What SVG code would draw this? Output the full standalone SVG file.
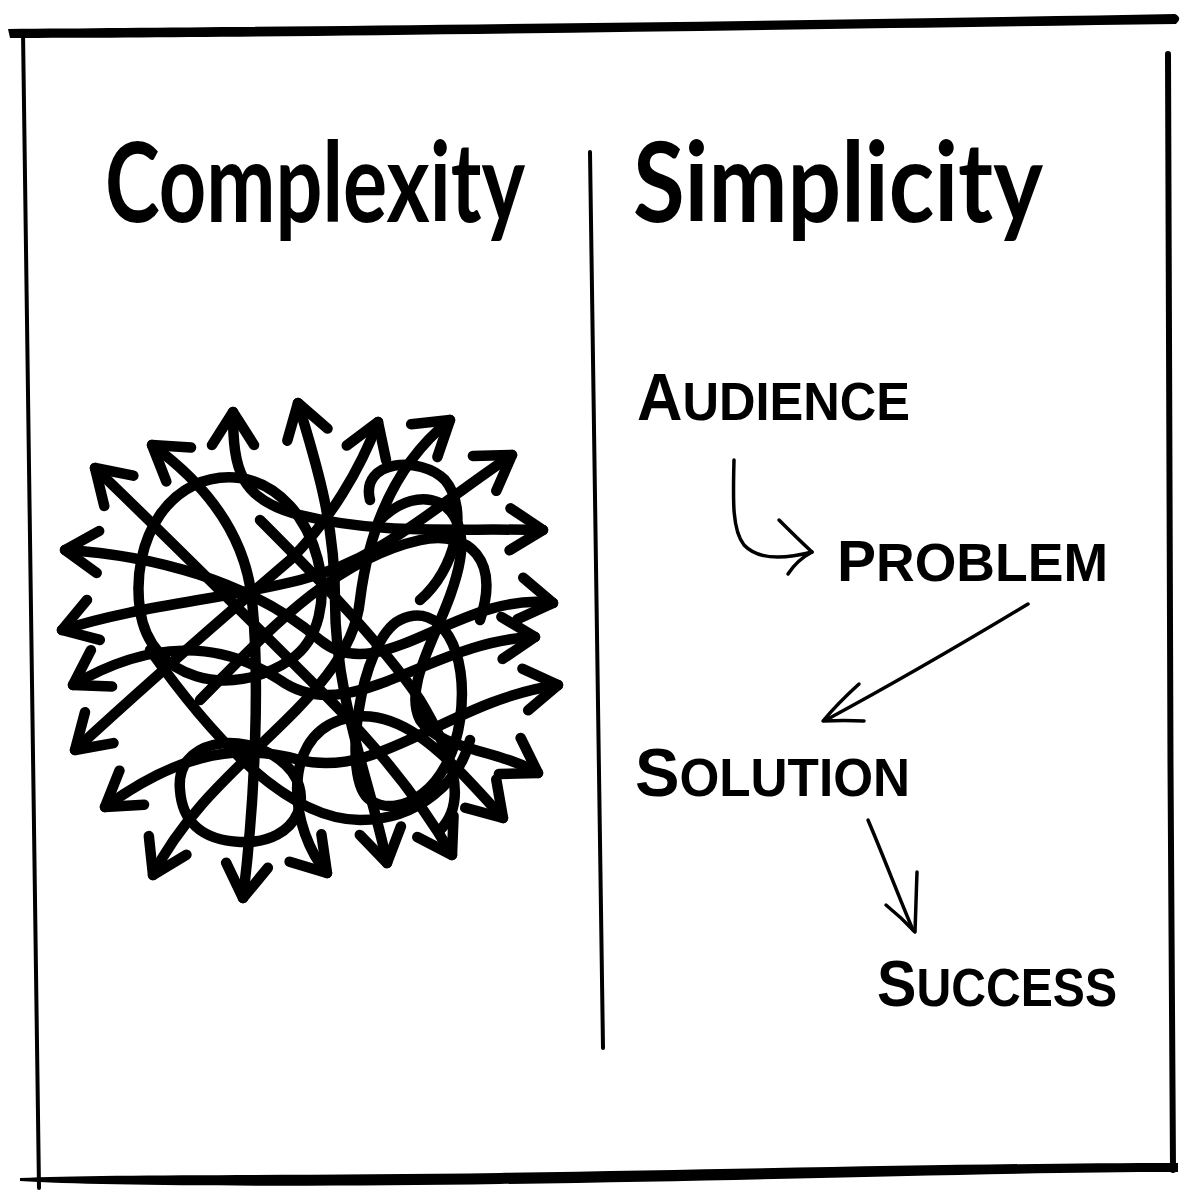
<svg xmlns="http://www.w3.org/2000/svg" width="1200" height="1200" viewBox="0 0 1200 1200">
<style>
.ink{fill:#000}
.s{fill:none;stroke:#000;stroke-width:10.5;stroke-linecap:round;stroke-linejoin:round}
.both{marker-start:url(#ah);marker-end:url(#ah)}
.one{marker-end:url(#ah)}
.thin{fill:none;stroke:#000;stroke-width:3.5;stroke-linecap:round;stroke-linejoin:round}
.title{font-family:Lato,"Liberation Sans",sans-serif;font-weight:700;font-size:112px;fill:#000}
.lbl{font-family:"Liberation Sans",Arial,sans-serif;font-weight:700;font-size:53px;fill:#000}
</style>
<defs>
<marker id="ah" viewBox="-40 -30 50 60" refX="0" refY="0" markerWidth="50" markerHeight="60" markerUnits="userSpaceOnUse" orient="auto-start-reverse" overflow="visible">
<path d="M-33,-21 L0,0 L-33,21" fill="none" stroke="#000" stroke-width="10.5" stroke-linecap="round" stroke-linejoin="round"/>
</marker>
</defs>
<rect width="1200" height="1200" fill="#fff"/>
<g id="frame">
<path class="ink" d="M8,29 C300,27 800,21 1175,14 Q1183,18 1176,24 C800,29 300,38 10,38 Z"/>
<path d="M23,32 L39,1188" stroke="#000" stroke-width="4" fill="none" stroke-linecap="round"/>
<path class="ink" d="M20,1178 C100,1174 300,1176 500,1173 C800,1168 1000,1163 1178,1163 L1178,1172 C1000,1172 800,1180 500,1184 C300,1187 100,1186 20,1181 Z"/>
<path d="M1168,54 C1171,400 1169,800 1173,1170" stroke="#000" stroke-width="6" fill="none" stroke-linecap="round"/>
<path d="M590,152 L603,1048" stroke="#000" stroke-width="4" fill="none" stroke-linecap="round"/>
</g>
<g id="title-complexity"><text class="title" x="105" y="222" textLength="420" lengthAdjust="spacingAndGlyphs">Complexity</text></g>
<g id="title-simplicity"><text class="title" x="633" y="222" textLength="410" lengthAdjust="spacingAndGlyphs">Simplicity</text></g>
<g id="tangle">
<path class="s both" d="M233,412 C233,470 240,500 300,515 C380,535 450,528 543,530"/>
<path class="s both" d="M152,445 C200,480 245,530 252,600 C260,680 255,800 243,898"/>
<path class="s both" d="M298,403 C315,460 335,520 335,600 C335,700 370,780 387,863"/>
<path class="s both" d="M378,422 C360,470 330,520 290,560 C220,620 140,690 75,750"/>
<path class="s both" d="M450,420 C400,460 370,520 360,600 C350,700 210,760 153,875"/>
<path class="s both" d="M512,455 C430,510 380,560 300,580 C220,600 140,605 62,630"/>
<path class="s both" d="M65,550 C150,555 250,580 320,640 C380,690 460,590 553,603"/>
<path class="s both" d="M95,468 C170,540 250,620 330,700 C380,750 420,800 452,855"/>
<path class="s both" d="M73,685 C150,640 220,640 280,680 C350,730 430,640 535,637"/>
<path class="s both" d="M105,807 C170,760 230,740 300,760 C380,780 450,700 558,685"/>
<path class="s both" d="M327,873 C290,830 280,740 340,720 C400,700 450,760 503,818"/>
<path class="s one" d="M380,520 C420,480 470,500 460,560 C450,620 400,680 420,720 C440,750 500,750 538,773"/>
<path class="s" d="M240,478 C170,470 130,540 140,610 C150,680 230,700 290,660 C350,620 320,490 240,478 Z"/>
<path class="s" d="M180,790 C175,740 240,730 280,760 C320,790 300,845 240,842 C200,840 182,820 180,790 Z"/>
<path class="s" d="M400,620 C440,600 470,650 460,720 C450,790 400,820 370,800 C340,780 360,640 400,620 Z"/>
<path class="s" d="M370,500 C360,460 420,455 445,480 C470,510 455,570 420,600"/>
<path class="s" d="M200,700 C260,640 330,560 420,540 C470,530 500,560 480,620"/>
<path class="s" d="M260,520 C300,560 380,640 420,700 C450,750 470,800 440,830"/>
<path class="s" d="M150,650 C200,720 280,820 360,820 C420,820 460,780 470,740"/>
</g>
<g id="node-audience"><text class="lbl" x="637" y="420" textLength="273" lengthAdjust="spacingAndGlyphs"><tspan font-size="66">A</tspan>UDIENCE</text></g>
<g id="node-problem"><text class="lbl" x="837" y="581" textLength="271" lengthAdjust="spacingAndGlyphs"><tspan font-size="58">P</tspan>ROBLEM</text></g>
<g id="node-solution"><text class="lbl" x="635" y="796" textLength="275" lengthAdjust="spacingAndGlyphs"><tspan font-size="69">S</tspan>OLUTION</text></g>
<g id="node-success"><text class="lbl" x="877" y="1006" textLength="240" lengthAdjust="spacingAndGlyphs"><tspan font-size="65">S</tspan>UCCESS</text></g>
<g id="connectors">
<path class="thin" d="M734,460 C733,500 732,530 744,545 C758,560 785,559 812,552"/>
<path class="thin" d="M779,520 Q797,538 812,552 Q797,560 788,574"/>
<path class="thin" d="M1028,604 C960,645 900,680 826,720"/>
<path class="thin" d="M859,684 Q838,703 823,721 Q845,720 864,721"/>
<path class="thin" d="M868,820 C885,860 898,895 913,930"/>
<path class="thin" d="M886,905 Q902,918 915,932 Q916,900 917,872"/>
</g>
</svg>
